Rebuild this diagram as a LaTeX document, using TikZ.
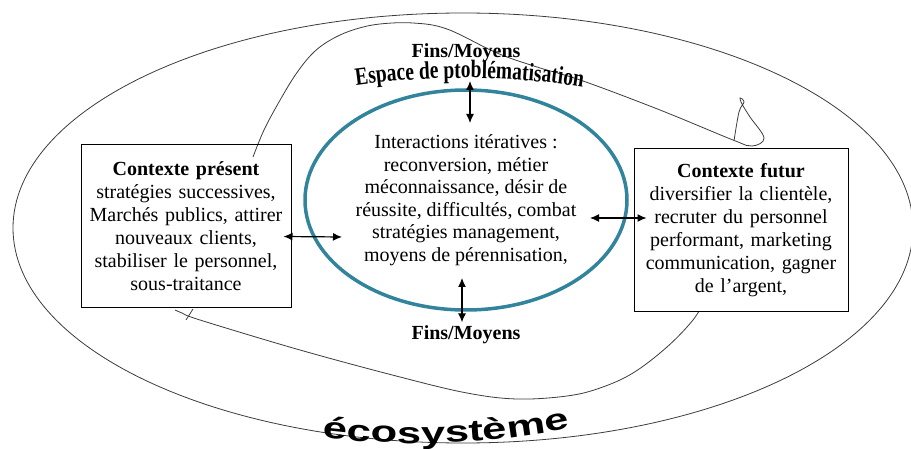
\documentclass[tikz,border=0pt]{standalone}
\usepackage{fontspec}
\setmainfont{Liberation Serif}
\newfontfamily\archfont[FakeStretch=0.78]{Liberation Serif}
\newfontfamily\ecofont[FakeStretch=1.45]{Liberation Sans}
\usepackage{tikz}
\usetikzlibrary{arrows.meta, shapes.geometric, decorations.text}
\definecolor{sarcelle}{RGB}{49,132,155}
\definecolor{trait}{RGB}{60,60,60}

\begin{document}
\begin{tikzpicture}[x=1pt, y=-1pt,
    boite/.style={draw, line width=1pt, text width=#1, align=center, inner sep=3pt, minimum height=163pt, font=\fontsize{20}{23}\selectfont},
    lien/.style={<->, >={Latex[length=9pt,width=8pt]}, line width=1.2pt},
    fins/.style={font=\bfseries\fontsize{20}{22}\selectfont}]
  \useasboundingbox (0,0) rectangle (911,449);

  \node[ellipse, draw=trait, line width=0.8pt, minimum width=900pt, minimum height=430pt] at (463,228) (ecosys) {};

  % trace libre
  \draw[trait, line width=0.8pt] plot[smooth, tension=0.6] coordinates {(253,157) (264,130) (279,102) (296,74) (314,52) (334,38) (356,29) (380,24) (413,23) (447,29) (497,53) (537,67) (583,81) (660,110) (733,140) (752,146) (764,138) (750,117) (742,104) (740,98) (744,102) (739,112) (734,141)};
  \draw[trait, line width=0.8pt] plot[smooth, tension=0.6] coordinates {(705,300) (693,320) (667,347) (633,373) (600,388) (567,396) (517,399) (467,393) (400,377) (300,350) (200,320) (182,313) (175,310)};
  \draw[trait, line width=0.8pt] (193,309) -- (186,320);

  \node[ellipse, draw=sarcelle, line width=3.5pt, minimum width=322pt, minimum height=220pt, inner sep=0pt, outer sep=0pt, align=center, font=\fontsize{20}{22.5}\selectfont] at (466,200) (inter) {Interactions itératives :\\ reconversion, métier\\ méconnaissance, désir de\\ réussite, difficultés, combat\\ stratégies management,\\ moyens de pérennisation,};

  \node[boite=204pt] at (186,226.5) (present) {\textbf{Contexte présent}\\ stratégies successives,\\ Marchés publics, attirer\\ nouveaux clients,\\ stabiliser le personnel,\\ sous-traitance};
  \node[boite=208pt, fill=white] at (741,230) (futur) {\textbf{Contexte futur}\\ diversifier la clientèle,\\ recruter du personnel\\ performant, marketing\\ communication, gagner\\ de l’argent,};

  \node[fins] at (466,53) (finsHaut) {Fins/Moyens};
  \node[fins] at (466,335) (finsBas) {Fins/Moyens};
  \path[decorate, decoration={text along path, text align=center, text={|\archfont\bfseries\fontsize{25}{25}\selectfont|Espace de ptoblématisation}}] (352,86) .. controls (430,75) and (510,75) .. (587,88);
  \coordinate (espace) at (470,81);

  \path[decorate, decoration={text along path, text align=center, text={|\ecofont\bfseries\fontsize{30}{30}\selectfont|écosystème}}] (318,437) .. controls (400,447) and (490,446) .. (574,427);

  \draw[lien] (espace) -- ([xshift=4pt,yshift=-33pt]inter.north);
  \draw[lien] ([xshift=-4pt,yshift=32pt]inter.south) -- ([xshift=-4pt]finsBas.north);
  \draw[lien] ([xshift=-8pt,yshift=-10pt]present.east) -- ([xshift=37pt,yshift=-37pt]inter.west);
  \draw[lien] ([xshift=-37pt,yshift=-18pt]inter.east) -- ([xshift=13pt,yshift=12pt]futur.west);
\end{tikzpicture}
\end{document}
